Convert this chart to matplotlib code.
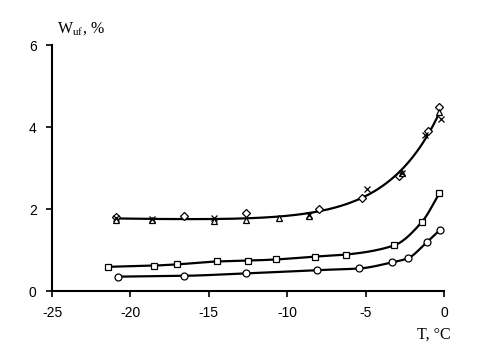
import numpy as np
import matplotlib
matplotlib.use("Agg")
import matplotlib.pyplot as plt

# Upper group (three series with a common fitted curve)
T_diamond = [-20.9, -16.6, -12.6, -8.0, -5.2, -2.9, -1.0, -0.3]
W_diamond = [1.80, 1.84, 1.90, 2.00, 2.28, 2.80, 3.90, 4.50]
T_cross = [-20.9, -18.6, -14.7, -8.6, -4.9, -2.7, -1.2, -0.2]
W_cross = [1.78, 1.75, 1.78, 1.85, 2.50, 2.89, 3.80, 4.19]
T_tri = [-20.9, -18.6, -14.7, -12.6, -10.5, -8.6, -2.7, -0.3]
W_tri = [1.72, 1.72, 1.70, 1.72, 1.77, 1.82, 2.89, 4.37]

# Lower groups
T_sq = [-21.4, -18.5, -17.0, -14.5, -12.5, -10.7, -8.2, -6.25, -3.2, -1.4, -0.3]
W_sq = [0.59, 0.62, 0.65, 0.72, 0.74, 0.77, 0.84, 0.89, 1.11, 1.69, 2.38]
T_circ = [-20.8, -16.6, -12.6, -8.1, -5.4, -3.3, -2.3, -1.1, -0.26]
W_circ = [0.35, 0.37, 0.43, 0.51, 0.55, 0.70, 0.80, 1.19, 1.49]

x_ticks = [-25, -20, -15, -10, -5, 0]
y_ticks = [0, 2, 4, 6]


def pchip(x, y, xn):
    x = np.asarray(x, float); y = np.asarray(y, float)
    h = np.diff(x); d = np.diff(y) / h
    m = np.zeros_like(y)
    for k in range(1, len(x) - 1):
        if d[k - 1] * d[k] > 0:
            w1 = 2 * h[k] + h[k - 1]; w2 = h[k] + 2 * h[k - 1]
            m[k] = (w1 + w2) / (w1 / d[k - 1] + w2 / d[k])
    m[0] = d[0]; m[-1] = d[-1]
    idx = np.clip(np.searchsorted(x, xn) - 1, 0, len(h) - 1)
    t = (xn - x[idx]) / h[idx]
    h00 = 2 * t**3 - 3 * t**2 + 1; h10 = t**3 - 2 * t**2 + t
    h01 = -2 * t**3 + 3 * t**2; h11 = t**3 - t**2
    return h00 * y[idx] + h10 * h[idx] * m[idx] + h01 * y[idx + 1] + h11 * h[idx] * m[idx + 1]


# Fit for the upper curve: W = a + b*T + c*exp(k*T)
Tall = np.array(T_diamond + T_cross + T_tri)
Wall = np.array(W_diamond + W_cross + W_tri)
best = None
for k in np.linspace(0.3, 0.45, 31):
    A = np.column_stack([np.ones_like(Tall), Tall, np.exp(k * Tall)])
    coef, res, *_ = np.linalg.lstsq(A, Wall, rcond=None)
    r = np.sum((A @ coef - Wall) ** 2)
    if best is None or r < best[0]:
        best = (r, k, coef)
_, kb, cb = best
Tf = np.linspace(-20.9, -0.3, 300)
Wf = cb[0] + cb[1] * Tf + cb[2] * np.exp(kb * Tf)

fig = plt.figure(figsize=(4.88, 3.59), dpi=100)
ax = fig.add_axes([0.1066, 0.1894, 0.8033, 0.6852])

lw = 1.6
ax.plot(Tf, Wf, color="black", lw=lw, zorder=2)
Ts = np.linspace(min(T_sq), max(T_sq), 300)
ax.plot(Ts, pchip(T_sq, W_sq, Ts), color="black", lw=lw, zorder=2)
Tc = np.linspace(min(T_circ), max(T_circ), 300)
ax.plot(Tc, pchip(T_circ, W_circ, Tc), color="black", lw=lw, zorder=2)

mk = dict(linestyle="none", markerfacecolor="white", markeredgecolor="black",
          markeredgewidth=0.9, zorder=3)
ax.plot(T_diamond, W_diamond, marker="D", markersize=4, **mk)
ax.plot(T_tri, W_tri, marker="^", markersize=4.5, **mk)
ax.plot(T_cross, W_cross, marker="x", markersize=5, linestyle="none",
        color="black", markeredgewidth=0.9, zorder=3)
ax.plot(T_sq, W_sq, marker="s", markersize=5, **mk)
ax.plot(T_circ, W_circ, marker="o", markersize=5, **mk)

ax.set_xlim(-25, 0)
ax.set_ylim(0, 6)
ax.set_xticks(x_ticks)
ax.set_yticks(y_ticks)
ax.set_xticklabels([str(v) for v in x_ticks])
ax.set_yticklabels([str(v) for v in y_ticks])
for s in ["top", "right"]:
    ax.spines[s].set_visible(False)
for s in ["left", "bottom"]:
    ax.spines[s].set_linewidth(1.5)
ax.tick_params(axis="both", direction="out", length=4, width=1.2,
               labelsize=10, pad=7)
for lab in ax.get_xticklabels() + ax.get_yticklabels():
    lab.set_fontfamily("Liberation Sans")

fig.text(57 / 488, 1 - 29 / 359, r"W$_{\mathregular{uf}}$, %", fontsize=11.5,
         family="Liberation Serif", ha="left", va="center")
fig.text(417 / 488, 1 - 335 / 359, "T, °C", fontsize=11.5,
         family="Liberation Serif", ha="left", va="center")

fig.savefig("out.png", dpi=100)
